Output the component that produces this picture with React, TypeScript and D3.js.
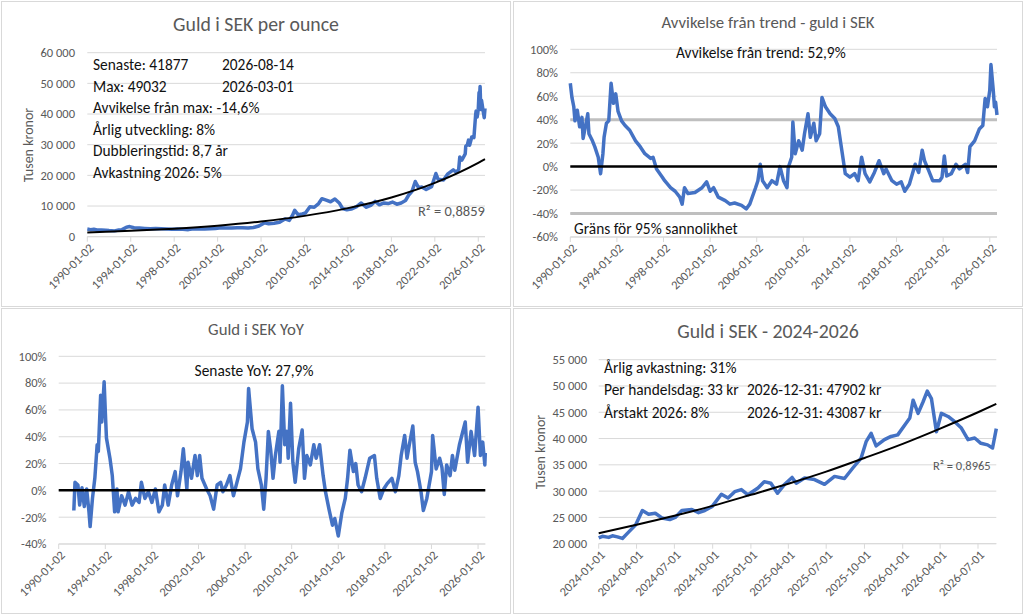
import React from "react";
import * as d3 from "d3";

const FONT = "Calibri, Carlito, Lato, sans-serif";
const GREY_TEXT = "#595959";
const GRID = "#d9d9d9";
const BLUE = "#4472c4";

// ---- tick labels ----
const longTickLabels = [
  "1990-01-02", "1994-01-02", "1998-01-02", "2002-01-02", "2006-01-02",
  "2010-01-02", "2014-01-02", "2018-01-02", "2022-01-02", "2026-01-02",
];
const recentTickLabels = [
  "2024-01-01", "2024-04-01", "2024-07-01", "2024-10-01", "2025-01-01", "2025-04-01",
  "2025-07-01", "2025-10-01", "2026-01-01", "2026-04-01", "2026-07-01",
];
const priceTicks = [0, 10000, 20000, 30000, 40000, 50000, 60000];
const devTicks = [-60, -40, -20, 0, 20, 40, 60, 80, 100];
const yoyTicks = [-40, -20, 0, 20, 40, 60, 80, 100];
const recentTicks = [20000, 25000, 30000, 35000, 40000, 45000, 50000, 55000];

// ---- series (decimal year, value) ----
const goldSek: [number, number][] = [
  [1990.0, 2500], [1990.3, 2300], [1990.6, 2400], [1990.9, 2200], [1991.3, 2200], [1991.7, 2100],
  [1992.0, 2000], [1992.5, 1900], [1992.9, 2200], [1993.2, 2300], [1993.6, 3100], [1993.9, 3300],
  [1994.3, 2900], [1994.8, 2800], [1995.3, 2700], [1995.8, 2600], [1996.3, 2700], [1996.8, 2600],
  [1997.3, 2500], [1997.8, 2400], [1998.3, 2500], [1998.8, 2400], [1999.3, 2300], [1999.8, 2600],
  [2000.3, 2500], [2000.8, 2500], [2001.3, 2600], [2001.8, 2700], [2002.3, 2900], [2002.8, 2800],
  [2003.3, 2800], [2003.8, 2900], [2004.3, 2900], [2004.8, 2800], [2005.3, 3000], [2005.8, 3500],
  [2006.3, 4500], [2006.7, 4200], [2007.2, 4400], [2007.7, 4700], [2008.2, 5800], [2008.6, 5300],
  [2008.9, 7000], [2009.1, 8600], [2009.4, 7200], [2009.8, 7400], [2010.1, 7800], [2010.5, 9800],
  [2010.9, 9600], [2011.3, 10800], [2011.6, 12400], [2012.0, 11900], [2012.4, 11400], [2012.8, 12300],
  [2013.2, 11000], [2013.5, 9200], [2013.9, 8800], [2014.3, 9000], [2014.8, 9800], [2015.2, 11000],
  [2015.7, 9600], [2016.1, 10200], [2016.5, 11500], [2016.9, 10400], [2017.3, 11000], [2017.7, 10800],
  [2018.1, 11300], [2018.5, 10600], [2018.9, 11000], [2019.3, 11800], [2019.6, 13600], [2019.9, 14800],
  [2020.2, 18000], [2020.5, 16000], [2020.8, 16200], [2021.2, 15400], [2021.7, 16300], [2022.1, 20600],
  [2022.3, 18700], [2022.8, 18500], [2023.2, 20500], [2023.7, 21800], [2024.0, 21000], [2024.2, 22000],
  [2024.3, 26000], [2024.5, 25000], [2024.8, 27000], [2024.85, 29500], [2025.0, 30000], [2025.1, 31500],
  [2025.2, 29800], [2025.4, 32500], [2025.6, 32300], [2025.75, 39500], [2025.8, 41000], [2025.9, 39000],
  [2026.0, 41500], [2026.07, 47000], [2026.1, 44500], [2026.17, 49000], [2026.23, 41500], [2026.3, 44500],
  [2026.45, 41000], [2026.55, 38800], [2026.62, 41877],
];
const goldTrend: [number, number][] = [
  [1990, 1400], [1994, 1920], [1998, 2630], [2002, 3610], [2006, 4950], [2010, 6790],
  [2014, 9320], [2018, 12790], [2022, 17550], [2026, 24100], [2026.62, 25300],
];

const trendDeviation: [number, number][] = [
  [1990.0, 71], [1990.14, 59], [1990.3, 51], [1990.4, 39], [1990.6, 48], [1990.8, 34], [1991.0, 42],
  [1991.1, 24], [1991.35, 37], [1991.5, 45], [1991.6, 28], [1991.9, 22], [1992.1, 17], [1992.4, 8],
  [1992.6, -6], [1992.8, 11], [1992.9, 25], [1993.1, 37], [1993.3, 39], [1993.5, 71], [1993.7, 54],
  [1993.9, 62], [1994.1, 47], [1994.4, 39], [1994.7, 35], [1995.1, 31], [1995.6, 22], [1996.0, 17],
  [1996.4, 11], [1996.9, 7], [1997.1, 8], [1997.4, -2], [1997.9, -9], [1998.1, -12], [1998.6, -18],
  [1999.0, -21], [1999.4, -26], [1999.6, -32], [1999.8, -18], [2000.1, -23], [2000.7, -22], [2001.3, -18],
  [2001.7, -13], [2002.0, -21], [2002.3, -18], [2002.7, -26], [2003.3, -29], [2003.7, -32], [2004.1, -31],
  [2004.7, -33], [2005.1, -36], [2005.4, -32], [2005.9, -18], [2006.1, -12], [2006.3, 2], [2006.5, -12],
  [2006.9, -18], [2007.3, -12], [2007.7, -15], [2008.0, 0], [2008.3, -12], [2008.6, -18], [2008.7, -1],
  [2009.0, 8], [2009.1, 38], [2009.3, 11], [2009.6, 22], [2009.9, 14], [2010.1, 28], [2010.4, 45],
  [2010.6, 25], [2010.9, 37], [2011.1, 22], [2011.4, 28], [2011.6, 59], [2011.9, 51], [2012.3, 45],
  [2012.7, 41], [2013.0, 34], [2013.3, 14], [2013.6, -6], [2014.0, -9], [2014.4, -6], [2014.7, -12],
  [2015.0, 8], [2015.3, -6], [2015.7, -13], [2016.1, -5], [2016.5, 5], [2016.9, -6], [2017.1, -2],
  [2017.6, -12], [2018.0, -15], [2018.4, -13], [2018.7, -21], [2019.1, -15], [2019.6, 2], [2019.9, -5],
  [2020.2, 14], [2020.4, 5], [2020.7, -2], [2021.1, -12], [2021.7, -12], [2021.9, -9], [2022.1, 9],
  [2022.3, -8], [2022.7, -6], [2023.1, 2], [2023.4, -2], [2023.9, 2], [2024.1, -5], [2024.3, 17],
  [2024.7, 22], [2025.1, 32], [2025.4, 35], [2025.6, 58], [2025.8, 51], [2026.0, 65], [2026.1, 87],
  [2026.3, 65], [2026.4, 51], [2026.5, 55], [2026.62, 44],
];

const yoyChange: [number, number][] = [
  [1991.3, -15], [1991.4, 6], [1991.65, 4], [1991.8, -11], [1992.0, 2], [1992.2, -12], [1992.4, 1],
  [1992.6, -16], [1992.7, -27], [1992.9, -6], [1993.1, 9], [1993.3, 34], [1993.4, 29], [1993.6, 71],
  [1993.7, 51], [1993.9, 81], [1994.0, 59], [1994.1, 39], [1994.4, 24], [1994.6, 11], [1994.8, -16],
  [1995.0, 1], [1995.1, -16], [1995.4, -4], [1995.7, -11], [1996.0, -1], [1996.3, -11], [1996.6, -6],
  [1996.9, -9], [1997.1, 6], [1997.4, -6], [1997.7, -1], [1998.0, -9], [1998.3, 1], [1998.6, -16],
  [1998.9, -11], [1999.1, 4], [1999.4, -11], [1999.7, 4], [2000.0, 14], [2000.2, -4], [2000.5, 14],
  [2000.7, 31], [2001.0, 1], [2001.1, 21], [2001.4, 9], [2001.7, 26], [2001.9, 11], [2002.1, 26],
  [2002.3, 9], [2002.7, 1], [2003.0, -4], [2003.3, -14], [2003.6, 4], [2003.9, 6], [2004.1, -1],
  [2004.4, 4], [2004.7, 11], [2005.0, -4], [2005.3, 6], [2005.6, 16], [2005.9, 36], [2006.2, 51],
  [2006.3, 76], [2006.6, 46], [2006.9, 36], [2007.1, 16], [2007.4, 4], [2007.6, -14], [2007.8, 9],
  [2008.0, 44], [2008.2, 30], [2008.4, 9], [2008.6, 26], [2008.9, 44], [2009.0, 21], [2009.2, 78],
  [2009.4, 34], [2009.6, 44], [2009.7, 24], [2009.9, 65], [2010.1, 21], [2010.3, 6], [2010.6, 31],
  [2010.9, 45], [2011.1, 9], [2011.3, 26], [2011.6, 19], [2011.9, 34], [2012.1, 24], [2012.4, 34],
  [2012.7, 11], [2012.9, -1], [2013.2, -14], [2013.5, -26], [2013.7, -21], [2014.0, -34], [2014.3, -17],
  [2014.6, -6], [2014.8, 9], [2015.0, 30], [2015.3, 14], [2015.5, 20], [2015.7, 4], [2016.0, -1],
  [2016.3, 9], [2016.7, 24], [2017.1, 26], [2017.3, 9], [2017.6, -6], [2017.9, 1], [2018.2, 5],
  [2018.6, 9], [2018.9, -1], [2019.2, 11], [2019.4, 26], [2019.7, 41], [2019.9, 24], [2020.1, 34],
  [2020.4, 48], [2020.6, 21], [2020.8, 14], [2021.1, -1], [2021.3, -15], [2021.6, -6], [2021.8, 4],
  [2022.0, 14], [2022.1, 41], [2022.4, 16], [2022.7, 24], [2022.9, 17], [2023.1, -3], [2023.3, 19],
  [2023.6, 11], [2023.8, 26], [2024.0, 15], [2024.4, 34], [2024.9, 51], [2025.1, 21], [2025.4, 44],
  [2025.7, 26], [2026.0, 62], [2026.2, 26], [2026.4, 36], [2026.58, 19], [2026.62, 28],
];

// ---- 2024-2026 series ----
const recentGold: [string, number][] = [
  ["2024-01-01", 21100], ["2024-01-10", 21400], ["2024-01-25", 21200], ["2024-02-03", 21500],
  ["2024-02-15", 21300], ["2024-02-27", 21000], ["2024-03-14", 22300], ["2024-03-30", 23600],
  ["2024-04-15", 26300], ["2024-04-30", 25600], ["2024-05-16", 25800], ["2024-06-01", 24900],
  ["2024-06-20", 24600], ["2024-07-03", 25000], ["2024-07-19", 26300], ["2024-08-12", 26500],
  ["2024-08-28", 25900], ["2024-09-12", 26300], ["2024-09-30", 27100], ["2024-10-22", 29400],
  ["2024-11-07", 28700], ["2024-11-23", 29900], ["2024-12-09", 30300], ["2024-12-25", 29300],
  ["2025-01-18", 30600], ["2025-02-02", 31800], ["2025-02-18", 31500], ["2025-03-06", 29600],
  ["2025-03-22", 31200], ["2025-04-10", 32600], ["2025-04-20", 31500], ["2025-05-10", 32500],
  ["2025-06-03", 32200], ["2025-06-27", 31300], ["2025-07-21", 32800], ["2025-08-14", 32400],
  ["2025-09-03", 34400], ["2025-09-23", 36300], ["2025-10-05", 39400], ["2025-10-17", 41000],
  ["2025-10-29", 38600], ["2025-11-18", 39800], ["2025-12-04", 40400], ["2025-12-20", 40700],
  ["2026-01-06", 42600], ["2026-01-18", 43900], ["2026-01-26", 47300], ["2026-02-07", 44800],
  ["2026-02-19", 47000], ["2026-03-01", 49032], ["2026-03-11", 47600], ["2026-03-23", 41300],
  ["2026-04-04", 44800], ["2026-04-20", 44200], ["2026-05-06", 43200], ["2026-05-22", 42000],
  ["2026-06-07", 39800], ["2026-06-23", 40100], ["2026-07-08", 39100], ["2026-07-24", 38800],
  ["2026-08-05", 38200], ["2026-08-14", 41877],
];
const recentTrend: [string, number][] = [
  ["2024-01-01", 22000], ["2024-04-01", 23600], ["2024-07-01", 25300], ["2024-10-01", 27200],
  ["2025-01-01", 29300], ["2025-04-01", 31400], ["2025-07-01", 33700], ["2025-10-01", 36300],
  ["2026-01-01", 39000], ["2026-04-01", 41900], ["2026-07-01", 45000], ["2026-08-14", 46600],
];

// ---- annotation texts ----
const priceNotes = [
  ["Senaste: 41877", "2026-08-14"],
  ["Max: 49032", "2026-03-01"],
  ["Avvikelse från max: -14,6%", ""],
  ["Årlig utveckling: 8%", ""],
  ["Dubbleringstid: 8,7 år", ""],
  ["Avkastning 2026: 5%", ""],
];
const recentNotes = [
  ["Årlig avkastning: 31%", ""],
  ["Per handelsdag: 33 kr", "2026-12-31: 47902 kr"],
  ["Årstakt 2026: 8%", "2026-12-31: 43087 kr"],
];

const yearToDate = (y: number) => {
  const base = Math.floor(y);
  return new Date(Date.UTC(base, 0, 2) + (y - base) * 365.25 * 864e5);
};
const isoDate = (s: string) => new Date(s + "T00:00:00Z");
const fmtSpace = (v: number) => d3.format(",")(v).replace(/,/g, " ");
const fmtPct = (v: number) => `${v}%`;

function Frame({ x, y, w, h }: { x: number; y: number; w: number; h: number }) {
  return <rect x={x + 0.5} y={y + 0.5} width={w} height={h} fill="#fff" stroke={GRID} strokeWidth={1} />;
}

function YGrid({ y, ticks, left, right, labelX, fmt }: any) {
  return (
    <g>
      {ticks.map((t: number) => (
        <g key={t}>
          <line x1={left} x2={right} y1={y(t)} y2={y(t)} stroke={GRID} strokeWidth={1} />
          <text x={labelX} y={y(t)} dy="0.35em" textAnchor="end" fontSize={12.5} fill={GREY_TEXT}>
            {fmt(t)}
          </text>
        </g>
      ))}
    </g>
  );
}

function XAxis({ x, ticks, labels, left, right, axisY }: any) {
  return (
    <g>
      <line x1={left} x2={right} y1={axisY} y2={axisY} stroke={GRID} strokeWidth={1} />
      {ticks.map((t: Date, i: number) => {
        const px = x(t);
        return (
          <g key={i}>
            <line x1={px} x2={px} y1={axisY} y2={axisY + 5} stroke={GRID} strokeWidth={1} />
            <text
              transform={`translate(${px + 4},${axisY + 9}) rotate(-45)`}
              textAnchor="end"
              dy="0.35em"
              fontSize={12.5}
              fill={GREY_TEXT}
            >
              {labels[i]}
            </text>
          </g>
        );
      })}
    </g>
  );
}

function PriceChart() {
  const x = d3.scaleTime().domain([yearToDate(1990), yearToDate(2026.62)]).range([87.3, 485]);
  const y = d3.scaleLinear().domain([0, 60000]).range([236.7, 52.7]);
  const line = d3.line<[number, number]>().x(d => x(yearToDate(d[0]))).y(d => y(d[1]));
  const trend = d3.line<[number, number]>().x(d => x(yearToDate(d[0]))).y(d => y(d[1])).curve(d3.curveMonotoneX);
  const rowY = [65, 86.7, 107.7, 129.3, 150.7, 172.3];
  return (
    <g>
      <Frame x={1} y={1} w={509} h={305} />
      <text x={256} y={31} textAnchor="middle" fontSize={19.8} fill={GREY_TEXT}>Guld i SEK per ounce</text>
      <YGrid y={y} ticks={priceTicks} left={87.3} right={485} labelX={75} fmt={fmtSpace} />
      <XAxis x={x} ticks={longTickLabels.map(isoDate)} labels={longTickLabels} left={87.3} right={485} axisY={236.7} />
      <text transform="translate(33,145) rotate(-90)" textAnchor="middle" fontSize={14} fill={GREY_TEXT}>Tusen kronor</text>
      <path d={line(goldSek) || ""} fill="none" stroke={BLUE} strokeWidth={3.5} strokeLinejoin="round" />
      <path d={trend(goldTrend) || ""} fill="none" stroke="#000" strokeWidth={2} />
      {priceNotes.map((n, i) => (
        <g key={i} fontSize={15.4} fill="#111">
          <text x={93} y={rowY[i]} dy="0.35em">{n[0]}</text>
          {n[1] && <text x={222} y={rowY[i]} dy="0.35em">{n[1]}</text>}
        </g>
      ))}
      <text x={418} y={211} dy="0.35em" fontSize={14.5} fill={GREY_TEXT}>R² = 0,8859</text>
    </g>
  );
}

function DeviationChart() {
  const x = d3.scaleTime().domain([yearToDate(1990), yearToDate(2026.62)]).range([570.3, 997]);
  const y = d3.scaleLinear().domain([-60, 100]).range([237, 49.3]);
  const line = d3.line<[number, number]>().x(d => x(yearToDate(d[0]))).y(d => y(d[1]));
  return (
    <g>
      <Frame x={513} y={1} w={509} h={305} />
      <text x={768} y={27.5} textAnchor="middle" fontSize={16.8} fill={GREY_TEXT}>Avvikelse från trend - guld i SEK</text>
      <YGrid y={y} ticks={devTicks} left={570.3} right={997} labelX={558} fmt={fmtPct} />
      <XAxis x={x} ticks={longTickLabels.map(isoDate)} labels={longTickLabels} left={570.3} right={997} axisY={237} />
      {[40, -40].map(v => (
        <line key={v} x1={570.3} x2={997} y1={y(v)} y2={y(v)} stroke="#bfbfbf" strokeWidth={3} />
      ))}
      <path d={line(trendDeviation) || ""} fill="none" stroke={BLUE} strokeWidth={3.5} strokeLinejoin="round" />
      <line x1={570.3} x2={997} y1={y(0)} y2={y(0)} stroke="#000" strokeWidth={2.5} />
      <text x={676} y={52.7} dy="0.35em" fontSize={15.4} fill="#111">Avvikelse från trend: 52,9%</text>
      <text x={574} y={228.3} dy="0.35em" fontSize={15.4} fill="#111">Gräns för 95% sannolikhet</text>
    </g>
  );
}

function YoyChart() {
  const x = d3.scaleTime().domain([yearToDate(1990), yearToDate(2026.62)]).range([58.7, 485.3]);
  const y = d3.scaleLinear().domain([-40, 100]).range([544, 356.3]);
  const line = d3.line<[number, number]>().x(d => x(yearToDate(d[0]))).y(d => y(d[1]));
  return (
    <g>
      <Frame x={1} y={308} w={509} h={305} />
      <text x={256} y={334.5} textAnchor="middle" fontSize={16.8} fill={GREY_TEXT}>Guld i SEK YoY</text>
      <YGrid y={y} ticks={yoyTicks} left={58.7} right={485.3} labelX={46.5} fmt={fmtPct} />
      <XAxis x={x} ticks={longTickLabels.map(isoDate)} labels={longTickLabels} left={58.7} right={485.3} axisY={544} />
      <path d={line(yoyChange) || ""} fill="none" stroke={BLUE} strokeWidth={3.5} strokeLinejoin="round" />
      <line x1={58.7} x2={485.3} y1={y(0)} y2={y(0)} stroke="#000" strokeWidth={2.5} />
      <text x={254} y={370.3} dy="0.35em" textAnchor="middle" fontSize={15.4} fill="#111">Senaste YoY: 27,9%</text>
    </g>
  );
}

function RecentChart() {
  const x = d3.scaleTime().domain([isoDate("2024-01-01"), isoDate("2026-08-14")]).range([598.7, 996.3]);
  const y = d3.scaleLinear().domain([20000, 55000]).range([543.7, 359.7]);
  const line = d3.line<[string, number]>().x(d => x(isoDate(d[0]))).y(d => y(d[1]));
  const trend = d3.line<[string, number]>().x(d => x(isoDate(d[0]))).y(d => y(d[1])).curve(d3.curveMonotoneX);
  const rowY = [368, 390, 413];
  return (
    <g>
      <Frame x={513} y={308} w={509} h={305} />
      <text x={768} y={338} textAnchor="middle" fontSize={19.8} fill={GREY_TEXT}>Guld i SEK - 2024-2026</text>
      <YGrid y={y} ticks={recentTicks} left={598.7} right={996.3} labelX={587} fmt={fmtSpace} />
      <XAxis x={x} ticks={recentTickLabels.map(isoDate)} labels={recentTickLabels} left={598.7} right={996.3} axisY={543.7} />
      <text transform="translate(545,452) rotate(-90)" textAnchor="middle" fontSize={14} fill={GREY_TEXT}>Tusen kronor</text>
      <path d={line(recentGold) || ""} fill="none" stroke={BLUE} strokeWidth={3.5} strokeLinejoin="round" />
      <path d={trend(recentTrend) || ""} fill="none" stroke="#000" strokeWidth={2} />
      {recentNotes.map((n, i) => (
        <g key={i} fontSize={15.4} fill="#111">
          <text x={604} y={rowY[i]} dy="0.35em">{n[0]}</text>
          {n[1] && <text x={747} y={rowY[i]} dy="0.35em">{n[1]}</text>}
        </g>
      ))}
      <text x={933} y={466} dy="0.35em" fontSize={12.5} fill={GREY_TEXT}>R² = 0,8965</text>
    </g>
  );
}

export default function App() {
  return (
    <svg
      width={1024}
      height={615}
      viewBox="0 0 1024 615"
      style={{ position: "absolute", left: 0, top: 0, background: "#fff" }}
      fontFamily={FONT}
    >
      <rect width={1024} height={615} fill="#fff" />
      <PriceChart />
      <DeviationChart />
      <YoyChart />
      <RecentChart />
    </svg>
  );
}
